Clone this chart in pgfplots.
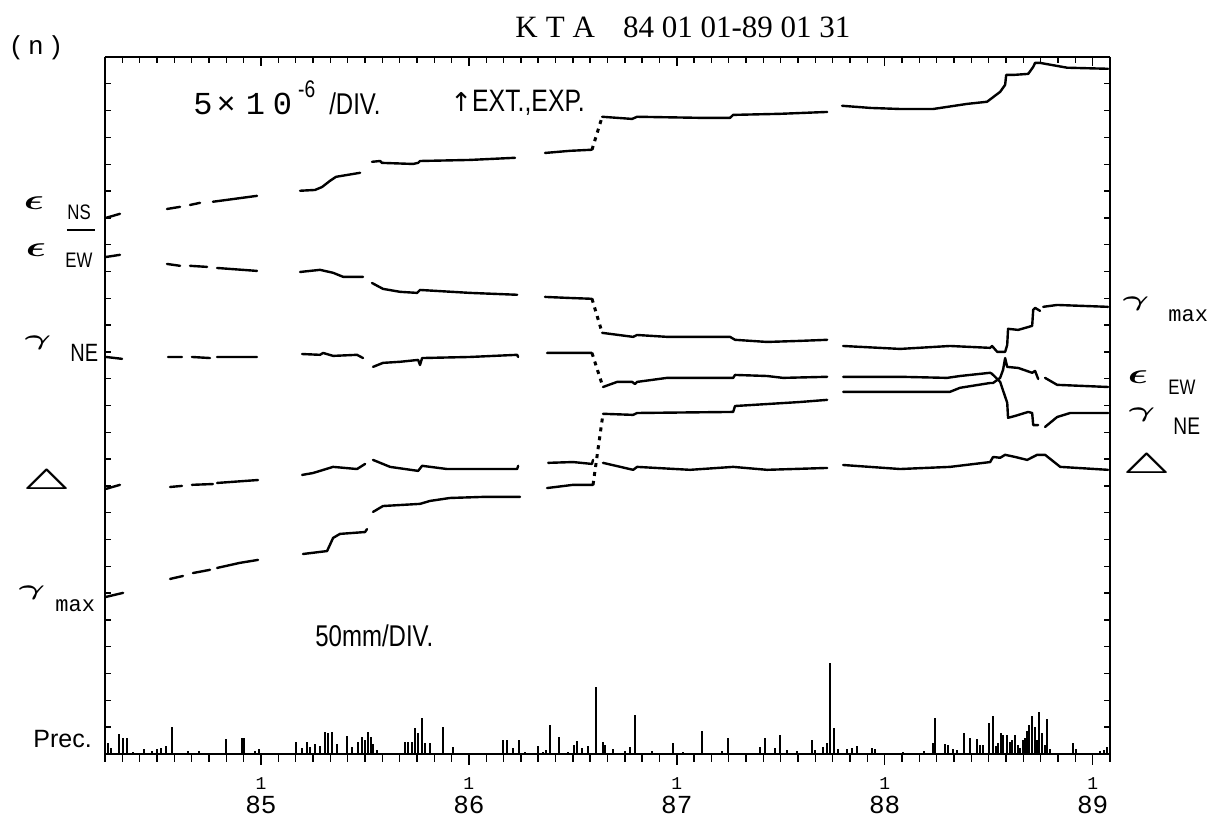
\documentclass[border=0pt]{standalone}
\usepackage{pgfplots}
\pgfplotsset{compat=1.18}
\usepackage{graphicx}
\usepackage{fontspec}
\setmainfont{Liberation Serif}
\newfontfamily\monof{Liberation Mono}
\newfontfamily\narrowf{Liberation Sans}[FakeStretch=0.8]
\newfontfamily\sansf{Liberation Sans}
\newfontfamily\djv{DejaVu Sans}

% component symbols used in the side labels
\newcommand\eps{{\fontsize{14}{14}\selectfont\scalebox{1.45}[1]{\boldmath$\epsilon$}}}
\newcommand\gam{{\fontsize{12}{12}\selectfont\scalebox{1.7}[0.9]{\boldmath$\gamma$}}}
\newcommand\tri{{\fontsize{14}{14}\selectfont\scalebox{1.6}[1]{\boldmath$\bigtriangleup$}}}

\pgfplotsset{
  strain/.style={black, line width=1.2pt, line join=round, line cap=round,
    unbounded coords=jump, mark=none},
  jumpdots/.style={black, line width=1.5pt, dash pattern=on 2pt off 2.5pt, mark=none},
}

\begin{document}
\begin{tikzpicture}
\useasboundingbox (-52.5pt,-31.5pt) rectangle (556pt,377pt);

% strain records, 1 division = 5e-6
\begin{axis}[
  at={(0pt,0pt)}, anchor=south west,
  scale only axis, width=502.5pt, height=348.5pt,
  xmin=84.25, xmax=89.08333, ymin=0, ymax=26,
  axis x line*=top, axis y line*=box,
  axis line style={-, line width=1.3pt},
  tick align=inside,
  xtick={85,86,87,88,89}, xticklabels={},
  minor xtick={84.25,84.333333,...,89.09},
  ytick={0,26}, yticklabels={},
  minor ytick={1,2,...,25},
  major tick length=4.5pt, minor tick length=3pt,
  every tick/.append style={line width=0.7pt, black},
]
% epsilon NS
\addplot[strain] coordinates {
(84.255,20.00)(84.322,20.15)(84.40,nan)
(84.548,20.33)(84.611,20.41)(84.63,nan)
(84.659,20.48)(84.707,20.56)(84.74,nan)
(84.769,20.60)(84.875,20.71)(84.981,20.82)(85.10,nan)
(85.188,21.01)(85.260,21.04)(85.294,21.15)(85.332,21.38)(85.361,21.53)(85.477,21.68)(85.50,nan)
(85.534,22.09)(85.573,22.12)(85.582,22.05)(85.731,22.01)(85.756,22.05)(85.765,22.12)(86.006,22.16)(86.222,22.24)(86.30,nan)
(86.366,22.42)(86.487,22.50)(86.592,22.54)(86.62,nan)
(86.641,23.77)(86.785,23.69)(86.809,23.77)(87.112,23.73)(87.256,23.73)(87.271,23.84)(87.497,23.88)(87.723,23.95)(87.76,nan)
(87.795,24.18)(87.930,24.10)(88.074,24.06)(88.233,24.06)(88.396,24.25)(88.492,24.33)(88.555,24.70)(88.579,24.96)(88.584,25.33)(88.617,25.33)(88.690,25.37)(88.714,25.63)(88.723,25.78)(88.747,25.78)(88.877,25.60)(89.074,25.56)
};
% epsilon EW
\addplot[strain] coordinates {
(84.255,18.54)(84.322,18.62)(84.40,nan)
(84.548,18.28)(84.611,18.21)(84.63,nan)
(84.659,18.21)(84.741,18.17)(84.76,nan)
(84.789,18.13)(84.981,18.02)(85.10,nan)
(85.188,17.98)(85.284,18.06)(85.347,17.95)(85.395,17.80)(85.491,17.80)(85.51,nan)
(85.534,17.57)(85.587,17.35)(85.669,17.24)(85.751,17.20)(85.765,17.31)(86.006,17.20)(86.232,17.13)(86.30,nan)
(86.366,17.05)(86.487,17.01)(86.592,16.98)(86.62,nan)
(86.641,15.71)(86.790,15.56)(86.809,15.63)(86.953,15.56)(87.256,15.56)(87.280,15.45)(87.434,15.37)(87.593,15.41)(87.723,15.45)(87.76,nan)
(87.800,15.22)(88.074,15.11)(88.314,15.22)(88.507,15.15)(88.516,15.22)(88.541,15.00)(88.579,15.00)(88.589,15.26)(88.593,15.86)(88.642,15.82)(88.709,15.97)(88.714,16.57)(88.723,16.64)(88.747,16.53)(88.755,nan)
(88.762,16.68)(88.829,16.75)(89.074,16.68)
};
% gamma NE
\addplot[strain] coordinates {
(84.255,14.81)(84.332,14.74)(84.40,nan)
(84.553,14.81)(84.620,14.81)(84.64,nan)
(84.668,14.81)(84.755,14.77)(84.77,nan)
(84.789,14.81)(84.981,14.81)(85.10,nan)
(85.198,14.92)(85.284,14.89)(85.299,14.96)(85.347,14.85)(85.462,14.89)(85.491,14.77)(85.51,nan)
(85.539,14.44)(85.587,14.59)(85.669,14.63)(85.756,14.70)(85.765,14.51)(85.775,14.77)(86.006,14.81)(86.232,14.89)(86.237,14.81)(86.30,nan)
(86.376,14.96)(86.592,14.96)(86.62,nan)
(86.645,13.69)(86.713,13.88)(86.785,13.88)(86.799,13.80)(86.809,13.88)(86.953,14.03)(87.271,14.03)(87.280,14.14)(87.434,14.10)(87.511,14.03)(87.723,14.07)(87.76,nan)
(87.800,14.07)(88.074,14.07)(88.300,14.03)(88.362,14.10)(88.507,14.22)(88.516,14.18)(88.555,13.88)(88.589,13.10)(88.593,12.54)(88.627,12.61)(88.690,12.76)(88.709,12.72)(88.714,12.27)(88.738,12.27)(88.755,nan)
(88.771,12.20)(88.829,12.57)(88.892,12.72)(89.074,12.72)
};
% triangle (areal strain)
\addplot[strain] coordinates {
(84.255,9.89)(84.322,10.04)(84.40,nan)
(84.563,9.96)(84.620,10.00)(84.64,nan)
(84.668,10.04)(84.769,10.07)(84.78,nan)
(84.789,10.11)(84.986,10.22)(85.10,nan)
(85.198,10.41)(85.250,10.48)(85.284,10.56)(85.347,10.71)(85.462,10.63)(85.501,10.82)(85.52,nan)
(85.539,10.97)(85.621,10.71)(85.756,10.56)(85.775,10.75)(85.895,10.63)(86.232,10.63)(86.237,10.75)(86.30,nan)
(86.381,10.86)(86.501,10.89)(86.592,10.82)(86.597,10.97)(86.62,nan)
(86.645,10.86)(86.790,10.60)(86.809,10.71)(87.064,10.60)(87.271,10.71)(87.434,10.60)(87.723,10.67)(87.76,nan)
(87.800,10.78)(88.074,10.63)(88.314,10.71)(88.507,10.89)(88.521,11.08)(88.555,11.05)(88.579,11.16)(88.627,11.08)(88.685,10.97)(88.733,11.16)(88.771,11.16)(88.844,10.71)(89.074,10.60)
};
% gamma max
\addplot[strain] coordinates {
(84.255,5.86)(84.337,6.01)(84.40,nan)
(84.563,6.53)(84.625,6.64)(84.64,nan)
(84.673,6.75)(84.755,6.87)(84.77,nan)
(84.789,6.94)(84.899,7.13)(84.986,7.24)(85.10,nan)
(85.202,7.46)(85.318,7.57)(85.347,8.06)(85.380,8.21)(85.501,8.28)(85.510,8.39)(85.52,nan)
(85.539,9.03)(85.587,9.25)(85.765,9.33)(85.813,9.44)(85.909,9.55)(86.068,9.59)(86.246,9.59)(86.30,nan)
(86.376,9.92)(86.501,10.04)(86.597,10.04)(86.62,nan)
(86.645,12.69)(86.790,12.65)(86.809,12.72)(87.271,12.76)(87.280,12.98)(87.593,13.13)(87.723,13.21)(87.76,nan)
(87.800,13.51)(88.074,13.51)(88.314,13.51)(88.362,13.66)(88.507,13.84)(88.521,13.84)(88.555,14.03)(88.569,14.33)(88.579,14.77)(88.589,14.44)(88.642,14.40)(88.709,14.22)(88.723,14.29)(88.738,13.99)(88.755,nan)
(88.771,14.03)(88.829,13.77)(89.074,13.69)
};
% steps across the 1986 interruption
\addplot[jumpdots] coordinates {(86.592,22.54)(86.641,23.77)};
\addplot[jumpdots] coordinates {(86.592,16.98)(86.641,15.71)};
\addplot[jumpdots] coordinates {(86.592,14.96)(86.645,13.69)};
\addplot[jumpdots] coordinates {(86.597,10.04)(86.645,12.69)};
\end{axis}

% daily precipitation, 50 mm per division, on the time axis
\begin{axis}[
  at={(0pt,0pt)}, anchor=south west,
  scale only axis, width=502.5pt, height=348.5pt,
  xmin=84.25, xmax=89.08333, ymin=0, ymax=26,
  axis x line=bottom, axis y line=none,
  x axis line style={-, line width=1.3pt},
  tick align=outside,
  xtick={85,86,87,88,89},
  xticklabels={{{\fontsize{9}{9}\selectfont 1}\\85},{{\fontsize{9}{9}\selectfont 1}\\86},{{\fontsize{9}{9}\selectfont 1}\\87},{{\fontsize{9}{9}\selectfont 1}\\88},{{\fontsize{9}{9}\selectfont 1}\\89}},
  xticklabel style={font={\monof\fontsize{13}{12}\selectfont}, align=center, yshift=-3pt},
  minor xtick={84.25,84.333333,...,89.09},
  major tick length=5.5pt, minor tick length=4pt,
  every tick/.append style={line width=0.7pt, black},
]
\addplot[ycomb, black, line width=0.8pt, mark=none] table[x=t, y=p] {
t p
84.264 0.41
84.279 0.22
84.317 0.75
84.337 0.60
84.356 0.60
84.385 0.07
84.438 0.19
84.476 0.11
84.500 0.19
84.519 0.22
84.543 0.30
84.572 1.01
84.649 0.11
84.702 0.11
84.832 0.56
84.909 0.60
84.919 0.60
84.971 0.11
84.991 0.19
85.169 0.45
85.198 0.22
85.222 0.45
85.236 0.26
85.260 0.37
85.284 0.30
85.308 0.82
85.323 0.78
85.342 0.82
85.366 0.37
85.414 0.67
85.438 0.26
85.467 0.45
85.486 0.63
85.501 0.52
85.515 0.82
85.530 0.63
85.539 0.37
85.558 0.15
85.693 0.45
85.707 0.45
85.727 0.45
85.741 0.97
85.756 0.78
85.775 1.34
85.789 0.41
85.813 0.41
85.876 1.01
85.924 0.26
86.164 0.52
86.184 0.52
86.212 0.22
86.241 0.52
86.270 0.07
86.333 0.30
86.357 0.07
86.371 0.15
86.390 1.08
86.434 0.63
86.477 0.07
86.506 0.34
86.520 0.49
86.544 0.22
86.573 0.30
86.612 2.50
86.645 0.45
86.655 0.34
86.693 0.19
86.751 0.11
86.775 0.26
86.799 1.46
86.881 0.11
86.982 0.41
87.030 0.07
87.121 0.86
87.218 0.11
87.247 0.60
87.401 0.26
87.425 0.60
87.473 0.22
87.497 0.71
87.530 0.15
87.579 0.11
87.651 0.52
87.665 0.15
87.704 0.26
87.723 0.41
87.737 3.40
87.757 0.97
87.776 0.19
87.819 0.19
87.843 0.22
87.867 0.30
87.939 0.22
87.954 0.19
88.088 0.07
88.189 0.11
88.233 0.41
88.242 1.34
88.290 0.37
88.305 0.34
88.329 0.19
88.348 0.15
88.382 0.78
88.411 0.60
88.444 0.56
88.459 0.34
88.473 0.34
88.502 1.16
88.521 1.42
88.536 0.30
88.545 0.41
88.560 0.78
88.569 0.71
88.589 0.71
88.603 0.45
88.613 0.52
88.627 0.71
88.642 0.34
88.651 0.22
88.666 0.52
88.675 0.60
88.685 0.86
88.694 1.08
88.709 1.42
88.723 1.01
88.733 0.52
88.742 1.57
88.757 0.78
88.771 0.34
88.781 1.31
88.795 0.19
88.906 0.41
88.920 0.19
89.036 0.11
89.055 0.15
89.069 0.26
};
\end{axis}

% header and scale notes
\node[font=\monof\fontsize{13}{15}\selectfont] at (-34.5pt,353pt) {(\hspace{2pt}n\hspace{2pt})};
\node[anchor=base west, inner sep=0pt, font=\fontsize{15.5}{18}\selectfont] at (205pt,358pt)
  {K\hspace{4pt}T\hspace{4pt}A\hspace{14pt}84 01 01-89 01 31};
\node[anchor=base west, inner sep=0pt] at (44pt,319.5pt)
  {{\monof\fontsize{16}{16}\selectfont 5\hspace{2pt}×\hspace{5pt}1\hspace{4pt}0}\hspace{3pt}\raisebox{8.5pt}{\narrowf\fontsize{12}{12}\selectfont -6}\hspace{7pt}{\narrowf\fontsize{15}{15}\selectfont /DIV.}};
\node[anchor=base west, inner sep=0pt] at (172.5pt,321pt)
  {{\djv\fontsize{13}{13}\selectfont ↑}{\narrowf\fontsize{15.5}{15.5}\selectfont EXT.,EXP.}};
\node[anchor=base west, inner sep=0pt, font=\narrowf\fontsize{15}{15}\selectfont] at (105pt,53.5pt) {50mm/DIV.};
\node[anchor=base west, inner sep=0pt, font=\sansf\fontsize{12.5}{12.5}\selectfont] at (-36pt,3pt) {Prec.};

% component names at the start of the records
\node at (-35.5pt,275.5pt) {\eps};
\node[anchor=base west, inner sep=0pt, font=\narrowf\fontsize{10.5}{10.5}\selectfont] at (-19pt,267pt) {NS};
\draw[line width=0.8pt] (-19pt,262pt) -- (-5pt,262pt);
\node at (-34.5pt,252pt) {\eps};
\node[anchor=base west, inner sep=0pt, font=\narrowf\fontsize{10.5}{10.5}\selectfont] at (-20pt,243pt) {EW};
\node at (-33.5pt,205.5pt) {\gam};
\node[anchor=base west, inner sep=0pt, font=\narrowf\fontsize{12.5}{12.5}\selectfont] at (-17.5pt,196pt) {NE};
\node at (-29pt,136pt) {\tri};
\node at (-36.5pt,80.5pt) {\gam};
\node[anchor=base west, inner sep=0pt, font=\monof\fontsize{11}{11}\selectfont] at (-25pt,71pt) {max};

% component names at the end of the records
\node at (515.5pt,225pt) {\gam};
\node[anchor=base west, inner sep=0pt, font=\monof\fontsize{11}{11}\selectfont] at (531.5pt,216pt) {max};
\node at (516.5pt,188.5pt) {\eps};
\node[anchor=base west, inner sep=0pt, font=\narrowf\fontsize{10.5}{10.5}\selectfont] at (531.5pt,179.5pt) {EW};
\node at (518.5pt,169.5pt) {\gam};
\node[anchor=base west, inner sep=0pt, font=\narrowf\fontsize{12}{12}\selectfont] at (534pt,159.5pt) {NE};
\node at (521pt,144pt) {\tri};
\end{tikzpicture}
\end{document}
